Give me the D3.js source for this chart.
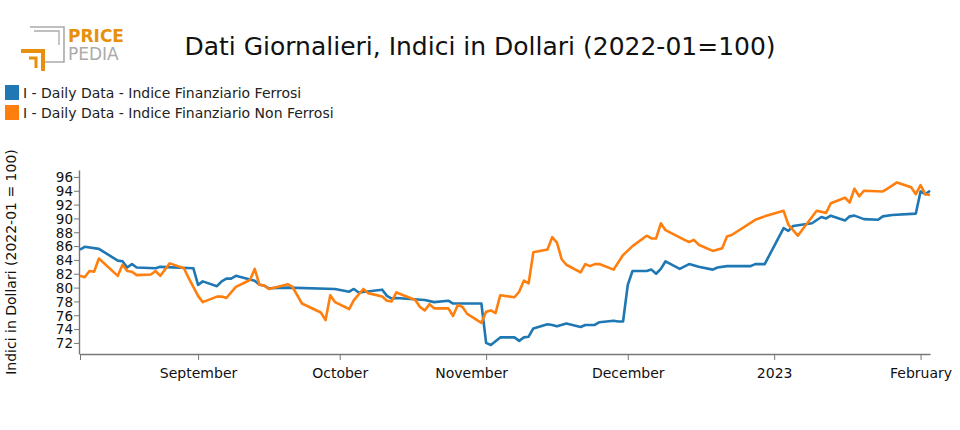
<!DOCTYPE html>
<html><head><meta charset="utf-8">
<script src="https://cdn.jsdelivr.net/npm/d3@7/dist/d3.min.js"></script>
<style>body{margin:0;background:#fff}text{font-family:"DejaVu Sans",sans-serif}</style>
</head><body><svg id="c" width="960" height="430"></svg>
<script>
const seriesNames = ["I - Daily Data - Indice Finanziario Ferrosi","I - Daily Data - Indice Finanziario Non Ferrosi"];
const colors = ["#1f77b4","#ff7f0e"];
const yTicks = [72,74,76,78,80,82,84,86,88,90,92,94,96];
const ferrosiDates = ["2022-08-07","2022-08-08","2022-08-11","2022-08-15","2022-08-16","2022-08-17","2022-08-18","2022-08-19","2022-08-23","2022-08-24","2022-08-31","2022-09-01","2022-09-02","2022-09-05","2022-09-06","2022-09-07","2022-09-08","2022-09-09","2022-09-13","2022-09-14","2022-09-15","2022-09-16","2022-09-20","2022-09-30","2022-10-03","2022-10-04","2022-10-05","2022-10-10","2022-10-11","2022-10-12","2022-10-13","2022-10-19","2022-10-21","2022-10-24","2022-10-25","2022-10-31","2022-11-01","2022-11-02","2022-11-04","2022-11-07","2022-11-08","2022-11-09","2022-11-10","2022-11-11","2022-11-14","2022-11-15","2022-11-16","2022-11-18","2022-11-21","2022-11-22","2022-11-24","2022-11-25","2022-11-28","2022-11-29","2022-11-30","2022-12-01","2022-12-02","2022-12-05","2022-12-06","2022-12-07","2022-12-08","2022-12-09","2022-12-12","2022-12-14","2022-12-16","2022-12-19","2022-12-20","2022-12-22","2022-12-27","2022-12-28","2022-12-30","2023-01-03","2023-01-04","2023-01-05","2023-01-09","2023-01-11","2023-01-12","2023-01-13","2023-01-16","2023-01-17","2023-01-18","2023-01-20","2023-01-23","2023-01-24","2023-01-26","2023-01-31","2023-02-01","2023-02-02","2023-02-03"];
const ferrosiValues = [85.5,85.9,85.6,83.9,83.8,82.9,83.4,82.9,82.8,83.0,82.8,80.4,80.9,80.2,80.9,81.3,81.3,81.7,81.0,80.4,80.3,79.9,80.0,79.8,79.4,79.8,79.3,79.7,78.8,78.4,78.5,78.2,77.9,78.1,77.7,77.7,72.0,71.7,72.8,72.8,72.3,72.8,72.9,74.1,74.7,74.6,74.4,74.8,74.3,74.6,74.6,75.0,75.2,75.1,75.1,80.4,82.4,82.4,82.6,82.0,82.7,83.8,82.7,83.4,83.0,82.6,82.9,83.1,83.1,83.4,83.4,88.6,88.2,88.9,89.3,90.2,90.0,90.4,89.7,90.3,90.4,89.9,89.8,90.3,90.5,90.7,93.9,93.5,94.0];
const nonFerrosiDates = ["2022-08-07","2022-08-08","2022-08-09","2022-08-10","2022-08-11","2022-08-15","2022-08-16","2022-08-17","2022-08-18","2022-08-19","2022-08-22","2022-08-23","2022-08-24","2022-08-26","2022-08-29","2022-08-30","2022-08-31","2022-09-01","2022-09-02","2022-09-05","2022-09-06","2022-09-07","2022-09-09","2022-09-12","2022-09-13","2022-09-14","2022-09-15","2022-09-16","2022-09-19","2022-09-20","2022-09-21","2022-09-23","2022-09-27","2022-09-28","2022-09-29","2022-09-30","2022-10-03","2022-10-04","2022-10-06","2022-10-07","2022-10-10","2022-10-11","2022-10-12","2022-10-13","2022-10-17","2022-10-18","2022-10-19","2022-10-20","2022-10-21","2022-10-24","2022-10-25","2022-10-26","2022-10-27","2022-10-28","2022-10-31","2022-11-01","2022-11-02","2022-11-03","2022-11-04","2022-11-07","2022-11-08","2022-11-09","2022-11-10","2022-11-11","2022-11-14","2022-11-15","2022-11-16","2022-11-17","2022-11-18","2022-11-21","2022-11-22","2022-11-23","2022-11-24","2022-11-25","2022-11-28","2022-11-30","2022-12-02","2022-12-05","2022-12-06","2022-12-07","2022-12-08","2022-12-09","2022-12-13","2022-12-14","2022-12-15","2022-12-16","2022-12-19","2022-12-21","2022-12-22","2022-12-23","2022-12-28","2022-12-30","2023-01-03","2023-01-04","2023-01-06","2023-01-10","2023-01-12","2023-01-13","2023-01-16","2023-01-17","2023-01-18","2023-01-19","2023-01-20","2023-01-24","2023-01-25","2023-01-27","2023-01-30","2023-01-31","2023-02-01","2023-02-02","2023-02-03"];
const nonFerrosiValues = [81.7,81.5,82.4,82.3,84.2,81.7,83.3,82.4,82.3,81.8,81.9,82.4,81.7,83.5,82.8,81.4,80.1,78.8,77.9,78.7,78.7,78.5,80.1,81.1,82.7,80.4,80.3,79.8,80.3,80.5,80.1,77.7,76.4,75.3,78.9,77.9,76.9,78.2,79.8,79.2,78.7,78.1,78.0,79.3,78.2,77.2,76.7,77.6,77.0,77.0,75.9,77.5,77.2,76.2,74.9,76.5,76.7,76.3,78.9,78.6,79.4,81.0,80.6,85.1,85.5,87.3,86.5,84.1,83.3,82.2,83.4,83.1,83.4,83.4,82.6,84.7,86.0,87.5,87.1,87.1,89.3,88.3,86.9,86.6,86.9,86.2,85.3,85.7,87.4,87.6,89.8,90.3,91.1,89.1,87.5,91.1,90.8,92.2,93.0,92.3,94.3,93.2,94.0,93.9,94.3,95.2,94.5,93.5,94.8,93.5,93.4];
const monthTicks = ["2022-08-07","2022-09-01","2022-10-01","2022-11-01","2022-12-01","2023-01-01","2023-02-01"];
const monthLabels = ["","September","October","November","December","2023","February"];

const parse = d3.timeParse("%Y-%m-%d");
const svg = d3.select("#c");
const x = d3.scaleTime().domain([parse("2022-08-07"), parse("2023-02-03")]).range([80,930]);
const y = d3.scaleLinear().domain([70.4,97]).range([354,170]);

const logo = svg.append("g");
logo.append("path").attr("d","M30,27H64V62H44").attr("fill","none").attr("stroke","#aaa").attr("stroke-width",1.6);
logo.append("path").attr("d","M34,31H59V45").attr("fill","none").attr("stroke","#aaa").attr("stroke-width",1.3);
logo.append("path").attr("d","M21,51H43V71").attr("fill","none").attr("stroke","#e8900c").attr("stroke-width",4);
logo.append("path").attr("d","M29,58H36V68").attr("fill","none").attr("stroke","#e8900c").attr("stroke-width",3);
logo.append("text").attr("x",68).attr("y",42).attr("font-size",17).attr("font-weight","bold").attr("fill","#e8900c").text("PRICE");
logo.append("text").attr("x",68).attr("y",60).attr("font-size",17).attr("fill","#aaa").text("PEDIA");

svg.append("text").attr("x",480).attr("y",55).attr("text-anchor","middle").attr("font-size",25).attr("fill","#111").text("Dati Giornalieri, Indici in Dollari (2022-01=100)");

seriesNames.forEach((n,i)=>{
  svg.append("rect").attr("x",5).attr("y",85+i*20).attr("width",14).attr("height",15).attr("fill",colors[i]);
  svg.append("text").attr("x",23).attr("y",98+i*20).attr("font-size",14).attr("fill","#222").text(n);
});

const yAx = svg.append("g").attr("transform","translate(79,0)").call(d3.axisLeft(y).tickValues(yTicks).tickSize(5).tickSizeOuter(0));
yAx.select(".domain").attr("stroke","#777").attr("stroke-width",1.4);
yAx.selectAll(".tick line").attr("stroke","#777");
yAx.selectAll("text").attr("font-size",13.5).attr("fill","#111").attr("dx",2).attr("dy","0.36em");
svg.append("text").attr("transform","translate(16,262) rotate(-90)").attr("text-anchor","middle").attr("font-size",14).attr("fill","#111").text("Indici in Dollari (2022-01 = 100)");

const xAx = svg.append("g").attr("transform","translate(0,354)").call(d3.axisBottom(x).tickValues(monthTicks.map(parse)).tickFormat((d,i)=>monthLabels[i]).tickSize(6).tickSizeOuter(0));
xAx.select(".domain").attr("stroke","#777").attr("stroke-width",1.4);
xAx.selectAll(".tick line").attr("stroke","#777");
xAx.selectAll("text").attr("font-size",14).attr("fill","#111").attr("dy","1.1em")
  .attr("dx",(d,i)=>monthLabels[i]==="November"?-15:0);

const line = d3.line().x(d=>x(d[0])).y(d=>y(d[1]));
[[ferrosiDates,ferrosiValues],[nonFerrosiDates,nonFerrosiValues]].forEach(([ds,vs],i)=>{
  svg.append("path").datum(ds.map((d,j)=>[parse(d),vs[j]])).attr("d",line)
    .attr("fill","none").attr("stroke",colors[i]).attr("stroke-width",2.6).attr("stroke-linejoin","round");
});
</script></body></html>
